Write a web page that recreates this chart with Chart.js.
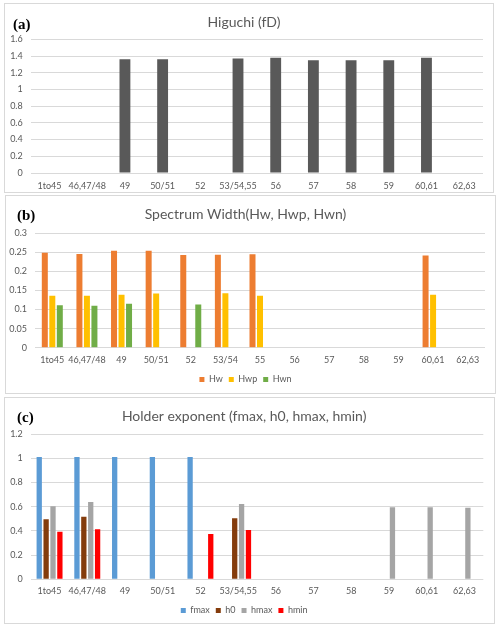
<!DOCTYPE html>
<html>
<head>
<meta charset="utf-8">
<script src="https://cdn.jsdelivr.net/npm/chart.js@4.4.1/dist/chart.umd.min.js"></script>
<style>
  body { margin: 0; background: #fff; width: 500px; height: 628px; position: relative; overflow: hidden; }
  .box { position: absolute; box-sizing: border-box; border: 1px solid #d9d9d9; pointer-events: none; }
  canvas { position: absolute; }
  .tag { position: absolute; font-family: "Liberation Serif", serif; font-weight: bold; font-size: 15px; color: #000; }
</style>
</head>
<body>
<canvas id="chart-a" style="left:5px;top:4px"></canvas>
<canvas id="chart-b" style="left:6px;top:196px"></canvas>
<canvas id="chart-c" style="left:5px;top:398px"></canvas>
<div class="box" style="left:4px;top:3px;width:490px;height:190px"></div>
<div class="box" style="left:5px;top:195px;width:491px;height:199px"></div>
<div class="box" style="left:4px;top:397px;width:491px;height:227px"></div>
<div class="tag" style="left:13px;top:16px">(a)</div>
<div class="tag" style="left:17px;top:207px">(b)</div>
<div class="tag" style="left:17px;top:409px">(c)</div>
<script>
const catsA = ["1to45", "46,47/48", "49", "50/51", "52", "53/54,55", "56", "57", "58", "59", "60,61", "62,63"];
const higuchi = [null, null, 1.36, 1.36, null, 1.37, 1.38, 1.35, 1.35, 1.35, 1.38, null];

const catsB = ["1to45", "46,47/48", "49", "50/51", "52", "53/54", "55", "56", "57", "58", "59", "60,61", "62,63"];
const hw  = [0.249, 0.246, 0.254, 0.254, 0.243, 0.244, 0.245, null, null, null, null, 0.242, null];
const hwp = [0.136, 0.136, 0.139, 0.142, null, 0.143, 0.136, null, null, null, null, 0.139, null];
const hwn = [0.111, 0.110, 0.115, null, 0.113, null, null, null, null, null, null, null, null];

const catsC = ["1to45", "46,47/48", "49", "50/51", "52", "53/54,55", "56", "57", "58", "59", "60,61", "62,63"];
const fmax = [1.01, 1.01, 1.01, 1.01, 1.01, null, null, null, null, null, null, null];
const h0   = [0.495, 0.517, null, null, null, 0.504, null, null, null, null, null, null];
const hmax = [0.603, 0.638, null, null, null, 0.622, null, null, null, 0.595, 0.595, 0.59];
const hmin = [0.393, 0.413, null, null, 0.374, 0.407, null, null, null, null, null, null];

const textColor = "#595959";
const gridColor = "#d9d9d9";
const font = "Lato";

function makeChart(id, w, h, cfg) {
  const canvas = document.getElementById(id);
  canvas.width = w;
  canvas.height = h;
  canvas.style.width = w + "px";
  canvas.style.height = h + "px";
  return new Chart(canvas.getContext("2d"), {
    type: "bar",
    data: { labels: cfg.labels, datasets: cfg.datasets },
    options: {
      responsive: false,
      animation: false,
      layout: { padding: { left: 0, right: cfg.padRight, top: 0, bottom: 0 } },
      plugins: {
        title: {
          display: true,
          text: cfg.title,
          color: textColor,
          font: { family: font, size: 14, weight: "normal" },
          padding: cfg.titlePad
        },
        legend: {
          display: cfg.legend,
          position: "bottom",
          labels: {
            color: textColor,
            boxWidth: 5,
            boxHeight: 5,
            padding: 6,
            font: { family: font, size: 9 }
          }
        },
        tooltip: { enabled: false }
      },
      scales: {
        x: {
          grid: { display: false, drawTicks: false },
          border: { display: false },
          ticks: {
            color: textColor,
            font: { family: font, size: 9 },
            padding: cfg.xPad,
            autoSkip: false,
            maxRotation: 0
          },
          afterFit: scale => { scale.height = cfg.xHeight; }
        },
        y: {
          min: 0,
          max: cfg.yMax,
          grid: { color: gridColor, drawTicks: false },
          border: { display: false },
          ticks: {
            stepSize: cfg.step,
            color: textColor,
            font: { family: font, size: 9 },
            padding: 8,
            callback: v => String(+v.toFixed(2))
          },
          afterFit: scale => { scale.width = cfg.yWidth; }
        }
      }
    }
  });
}

makeChart("chart-a", 488, 188, {
  labels: catsA,
  title: "Higuchi (fD)",
  titlePad: { top: 10.4, bottom: 8.1 },
  legend: false,
  padRight: 10,
  xHeight: 19,
  xPad: 8,
  yWidth: 25.7,
  yMax: 1.6,
  step: 0.2,
  datasets: [
    { label: "fD", data: higuchi, backgroundColor: "#595959", barPercentage: 0.9, categoryPercentage: 0.32 }
  ]
});

makeChart("chart-b", 489, 198, {
  labels: catsB,
  title: "Spectrum Width(Hw, Hwp, Hwn)",
  titlePad: { top: 9.9, bottom: 10.6 },
  legend: true,
  padRight: 10,
  xHeight: 21.3,
  xPad: 7,
  yWidth: 29,
  yMax: 0.3,
  step: 0.05,
  datasets: [
    { label: "Hw", data: hw, backgroundColor: "#ed7d31", barPercentage: 0.8, categoryPercentage: 0.65 },
    { label: "Hwp", data: hwp, backgroundColor: "#ffc000", barPercentage: 0.8, categoryPercentage: 0.65 },
    { label: "Hwn", data: hwn, backgroundColor: "#70ad47", barPercentage: 0.8, categoryPercentage: 0.65 }
  ]
});

makeChart("chart-c", 489, 227, {
  labels: catsC,
  title: "Holder exponent (fmax, h0, hmax, hmin)",
  titlePad: { top: 9.6, bottom: 9.6 },
  legend: true,
  padRight: 10.7,
  xHeight: 20.7,
  xPad: 6,
  yWidth: 25.7,
  yMax: 1.2,
  step: 0.2,
  datasets: [
    { label: "fmax", data: fmax, backgroundColor: "#5b9bd5", barPercentage: 0.77, categoryPercentage: 0.73 },
    { label: "h0", data: h0, backgroundColor: "#843c0c", barPercentage: 0.77, categoryPercentage: 0.73 },
    { label: "hmax", data: hmax, backgroundColor: "#a5a5a5", barPercentage: 0.77, categoryPercentage: 0.73 },
    { label: "hmin", data: hmin, backgroundColor: "#ff0000", barPercentage: 0.77, categoryPercentage: 0.73 }
  ]
});
</script>
</body>
</html>
